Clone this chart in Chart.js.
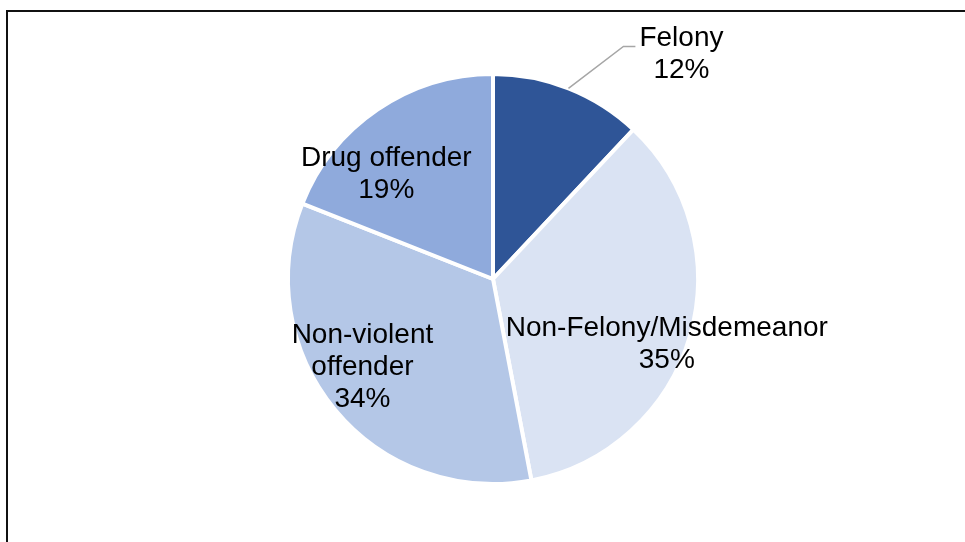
<!DOCTYPE html>
<html>
<head>
<meta charset="utf-8">
<script src="https://cdn.jsdelivr.net/npm/chart.js@4.4.1/dist/chart.umd.min.js"></script>
<style>
  html, body { margin: 0; padding: 0; background: #ffffff; }
  #wrap { position: relative; width: 965px; height: 542px; }
</style>
</head>
<body>
<div id="wrap"><canvas id="pie" width="965" height="542"></canvas></div>
<script>
// Offence categories and their share of the total (percent)
const categories = ['Felony', 'Non-Felony/Misdemeanor', 'Non-violent offender', 'Drug offender'];
const shares = [12, 35, 34, 19];
const sliceColors = ['#2F5597', '#DAE3F3', '#B4C7E7', '#8FAADC'];

// Lines of each slice label (category name wrapped, then the percentage)
const labelLines = [
  ['Felony'],
  ['Non-Felony/Misdemeanor'],
  ['Non-violent', 'offender'],
  ['Drug offender']
];

// Label anchor for each slice: angle in degrees clockwise from 12 o'clock,
// and distance as a fraction of the pie radius
const labelPlacement = [
  { angle: 40, dist: 1.43, leader: true },
  { angle: 110.5, dist: 0.905 },
  { angle: 235.8, dist: 0.77 },
  { angle: 314.5, dist: 0.73 }
];

const FONT = '28px "Liberation Sans", Arial, sans-serif';
const LINE_H = 32;

const framePlugin = {
  id: 'frame',
  beforeDraw(chart) {
    const ctx = chart.ctx;
    ctx.save();
    ctx.strokeStyle = '#111111';
    ctx.lineWidth = 2;
    ctx.beginPath();
    ctx.moveTo(7, chart.height + 2);
    ctx.lineTo(7, 11);
    ctx.lineTo(chart.width + 2, 11);
    ctx.stroke();
    ctx.restore();
  }
};

const sliceLabels = {
  id: 'sliceLabels',
  afterDatasetsDraw(chart) {
    const ctx = chart.ctx;
    const meta = chart.getDatasetMeta(0);
    const values = chart.data.datasets[0].data;
    const total = values.reduce((a, b) => a + b, 0);
    ctx.save();
    ctx.font = FONT;
    ctx.fillStyle = '#000000';
    ctx.textAlign = 'center';
    ctx.textBaseline = 'middle';
    meta.data.forEach((arc, i) => {
      const p = labelPlacement[i];
      const cx = arc.x, cy = arc.y, r = arc.outerRadius;
      const a = (p.angle - 90) * Math.PI / 180;
      const tx = cx + Math.cos(a) * r * p.dist;
      const ty = cy + Math.sin(a) * r * p.dist;
      const lines = labelLines[i].concat([Math.round(values[i] / total * 100) + '%']);
      const top = ty - (lines.length - 1) * LINE_H / 2;
      lines.forEach((t, k) => ctx.fillText(t, tx, top + k * LINE_H));

      if (p.leader) {
        // leader line from the slice edge at its mid angle to the label
        const mid = (arc.startAngle + arc.endAngle) / 2;
        const sx = cx + Math.cos(mid) * r;
        const sy = cy + Math.sin(mid) * r;
        const w = ctx.measureText(lines[0]).width;
        const ey = top + 8;
        const ex = tx - w / 2 - 4;
        ctx.strokeStyle = '#A6A6A6';
        ctx.lineWidth = 1.5;
        ctx.beginPath();
        ctx.moveTo(sx, sy);
        ctx.lineTo(ex - 12, ey);
        ctx.lineTo(ex, ey);
        ctx.stroke();
      }
    });
    ctx.restore();
  }
};

new Chart(document.getElementById('pie'), {
  type: 'pie',
  data: {
    labels: categories,
    datasets: [{
      data: shares,
      backgroundColor: sliceColors,
      borderColor: '#ffffff',
      borderWidth: 4,
      borderAlign: 'center'
    }]
  },
  options: {
    responsive: false,
    animation: false,
    radius: 205,
    layout: { padding: { left: 21, right: 0, top: 16, bottom: 0 } },
    plugins: {
      legend: { display: false },
      tooltip: { enabled: false }
    }
  },
  plugins: [framePlugin, sliceLabels]
});
</script>
</body>
</html>
